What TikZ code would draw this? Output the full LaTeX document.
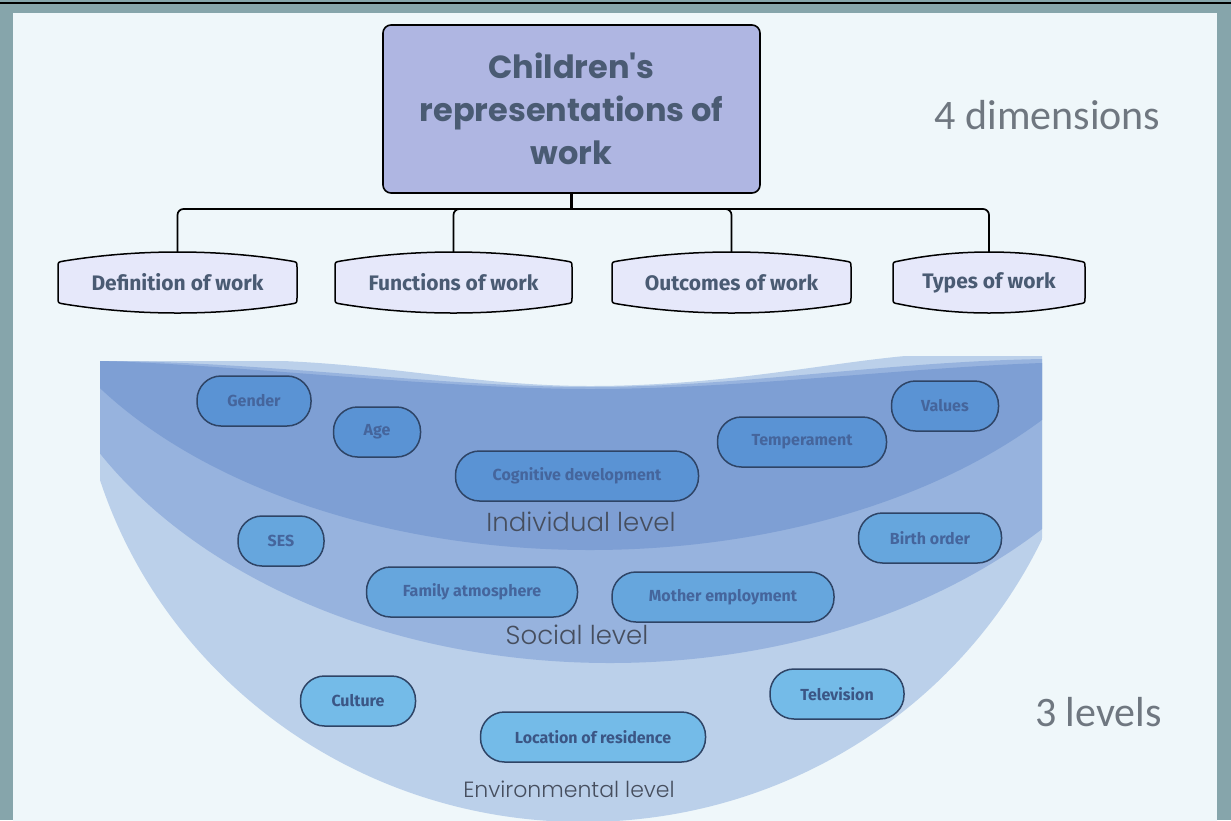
\documentclass[tikz,border=0pt]{standalone}
\usepackage{fontspec}
\setmainfont{Poppins}
\newfontfamily\labelfont{Fira Sans}
\newfontfamily\notefont{Carlito}
\newfontfamily\thinfont{Poppins Light}
\usepackage{tikz}
\usetikzlibrary{positioning}

\definecolor{frame}{HTML}{86A5AB}
\definecolor{panel}{HTML}{EFF7FA}
\definecolor{titlefill}{HTML}{AFB6E2}
\definecolor{dimfill}{HTML}{E6E8FA}
\definecolor{slate}{HTML}{4A5B73}
\definecolor{envband}{HTML}{BBD0EA}
\definecolor{socband}{HTML}{97B3DE}
\definecolor{indband}{HTML}{7E9FD4}
\definecolor{indfill}{HTML}{5A93D4}
\definecolor{socfill}{HTML}{66A6DD}
\definecolor{envfill}{HTML}{74BBE8}
\definecolor{factorline}{HTML}{2E4466}
\definecolor{factortext}{HTML}{45659C}
\definecolor{leveltext}{HTML}{464E5E}
\definecolor{notegray}{HTML}{6F7780}

\begin{document}
\begin{tikzpicture}[x=1pt,y=-1pt,
  titlebox/.style={draw=black, line width=1.6pt, rounded corners=8pt, fill=titlefill, text=slate,
    font=\fontsize{32}{43}\selectfont\bfseries, align=center, minimum width=377pt, minimum height=168pt},
  dimtext/.style={text=slate, font=\labelfont\bfseries\fontsize{21}{25}\selectfont, minimum height=61pt, inner sep=0pt},
  dimshape/.style={draw=black, line width=1.5pt, fill=dimfill},
  link/.style={draw=black, line width=1.7pt, rounded corners=6pt},
  factor/.style={draw=factorline, line width=1.5pt, rounded corners=24pt, minimum height=50pt, inner sep=2pt,
    text=factortext, font=\labelfont\bfseries\fontsize{16}{19}\selectfont},
  ind/.style={factor, fill=indfill},
  soc/.style={factor, fill=socfill},
  env/.style={factor, fill=envfill, text=factortext!85!black},
  levelname/.style={text=leveltext, font=\thinfont\fontsize{26}{30}\selectfont},
  note/.style={text=notegray, font=\notefont\fontsize{42}{50}\selectfont}]
\useasboundingbox (0,0) rectangle (1231,820);
\fill[frame] (0,0) rectangle (1231,820);
\draw[line width=2pt] (0,3) -- (1231,3);
\fill[panel] (13,13) rectangle (1217,830);

\begin{scope}
 \clip (100,361) -- (283,361) .. controls (400,366) and (480,386) .. (590,386) .. controls (720,386) and (820,364) .. (905,356) -- (1042,356) -- (1042,830) -- (100,830) -- cycle;
 \fill[envband] (583,330) ellipse [x radius=507, y radius=492];
\end{scope}
\begin{scope}
 \clip (100,361) .. controls (260,361) and (440,387) .. (590,387) .. controls (740,387) and (880,362) .. (1042,359) -- (1042,830) -- (100,830) -- cycle;
 \fill[socband] (610,250) ellipse [x radius=586, y radius=413];
\end{scope}
\begin{scope}
 \clip (100,361) .. controls (230,364) and (440,389) .. (590,389) .. controls (740,389) and (900,368) .. (1042,363) -- (1042,830) -- (100,830) -- cycle;
 \fill[indband] (590,200) ellipse [x radius=581, y radius=350];
\end{scope}

\node[titlebox] (work) at (571.5,109) {Children\textquotesingle s\\representations of\\work};

\foreach \cx/\hw in {177.5/119.5,453.5/118.5,731.5/119.5,989/96}
 \filldraw[dimshape] ({\cx-\hw},267) -- ({\cx-\hw},298) .. controls ({\cx-\hw},303) .. ({\cx-\hw+6},304)
   .. controls ({\cx-\hw/3},316) and ({\cx+\hw/3},316) .. ({\cx+\hw-6},304)
   .. controls ({\cx+\hw},303) .. ({\cx+\hw},298) -- ({\cx+\hw},267)
   .. controls ({\cx+\hw},262) .. ({\cx+\hw-6},261)
   .. controls ({\cx+\hw/3},249) and ({\cx-\hw/3},249) .. ({\cx-\hw+6},261)
   .. controls ({\cx-\hw},262) .. ({\cx-\hw},267) -- cycle;

\node[dimtext] (def) at (177.5,282.5) {Definition of work};
\node[dimtext] (fun) at (453.5,282.5) {Functions of work};
\node[dimtext] (out) at (731.5,282.5) {Outcomes of work};
\node[dimtext] (typ) at (989,282.5) {Types of work};

\coordinate (hub) at (571.5,209);
\draw[link, line width=2.6pt] (work.south) -- (hub);
\draw[link] (def.north) |- (hub) -| (typ.north);
\draw[link] (hub) -| (fun.north);
\draw[link] (hub) -| (out.north);

\node[note] (dims) at (1047.5,115) {4 dimensions};
\node[note] (lvls) at (1098.5,712) {3 levels};

\node[ind, minimum width=114pt] (gender) at (254,401) {Gender};
\node[ind, minimum width=87pt] (age) at (377,432) {Age};
\node[ind, minimum width=243pt] (cog) at (577,476) {Cognitive development};
\node[ind, minimum width=169pt] (temp) at (802,442) {Temperament};
\node[ind, minimum width=107pt] (values) at (945,406) {Values};
\node[levelname] (indlevel) at (581,522) {Individual level};

\node[soc, minimum width=86pt] (ses) at (281,541) {SES};
\node[soc, minimum width=143pt] (birth) at (930,538) {Birth order};
\node[soc, minimum width=211pt] (family) at (472,592) {Family atmosphere};
\node[soc, minimum width=222pt] (mother) at (723,597) {Mother employment};
\node[levelname] (soclevel) at (577,635) {Social level};

\node[env, minimum width=115pt] (culture) at (358,701) {Culture};
\node[env, minimum width=225pt] (residence) at (593,737) {Location of residence};
\node[env, minimum width=134pt] (tv) at (837,694) {Television};
\node[levelname, font=\thinfont\fontsize{22}{26}\selectfont] (envlevel) at (569,789) {Environmental level};
\end{tikzpicture}
\end{document}
